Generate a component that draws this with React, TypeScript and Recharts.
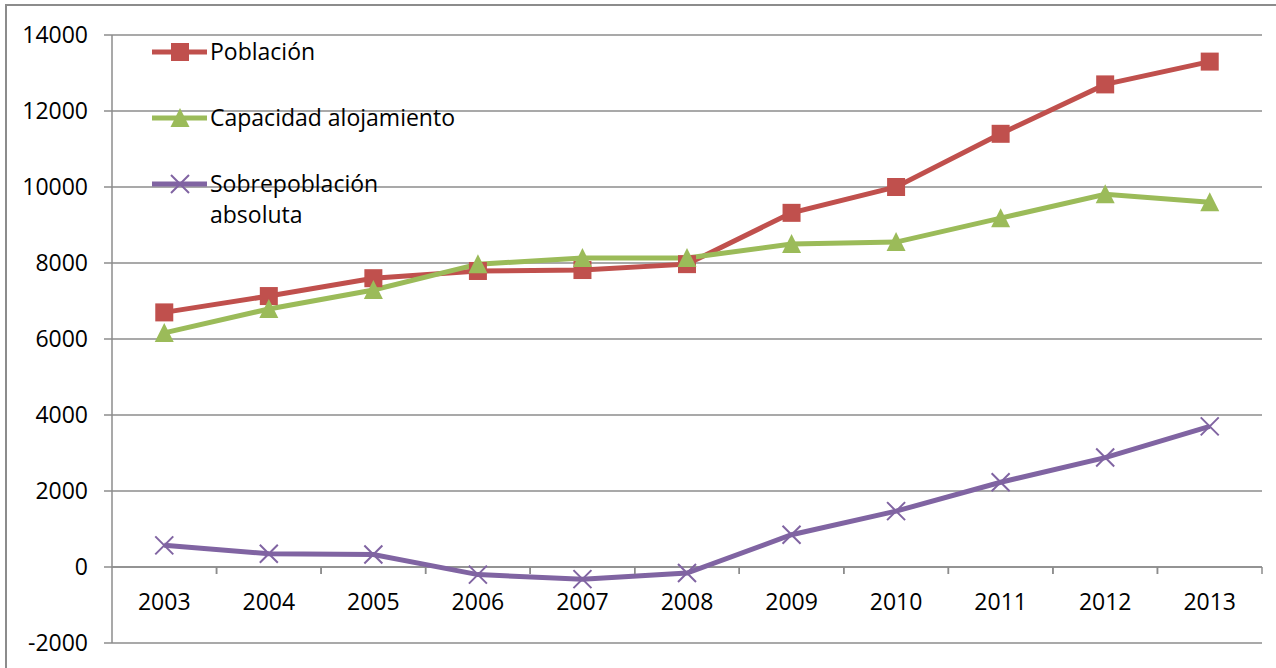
import { LineChart, Line, XAxis, YAxis, CartesianGrid, Legend, ReferenceLine } from 'recharts';

const years = ['2003', '2004', '2005', '2006', '2007', '2008', '2009', '2010', '2011', '2012', '2013'];
const poblacion = [6700, 7130, 7600, 7790, 7815, 7970, 9320, 10000, 11400, 12700, 13300];
const capacidad = [6160, 6790, 7290, 7970, 8130, 8130, 8500, 8550, 9180, 9810, 9600];
const sobrepoblacion = [570, 350, 330, -200, -320, -160, 850, 1470, 2230, 2880, 3700];
const yTicks = [-2000, 0, 2000, 4000, 6000, 8000, 10000, 12000, 14000];

const data = years.map((year, i) => ({
  year,
  poblacion: poblacion[i],
  capacidad: capacidad[i],
  sobrepoblacion: sobrepoblacion[i],
}));

const W = 1276;
const H = 668;
const X_H = 25;
const M = { top: 35, right: 14, bottom: 0, left: 0 };
const Y_W = 112;
const PLOT_W = W - M.left - M.right - Y_W;
const PLOT_H = H - M.top - M.bottom - X_H;
const Y_MIN = -2000;
const Y_MAX = 14000;
const ZERO_Y = M.top + (PLOT_H * (Y_MAX - 0)) / (Y_MAX - Y_MIN);
const BAND = PLOT_W / years.length;

const RED = '#C0504D';
const GREEN = '#9BBB59';
const PURPLE = '#8064A2';
const GRID = '#8c8c8c';
const FONT = '"Open Sans", sans-serif';
const FS = 23;

function SquareDot({ cx, cy }: any) {
  return <rect x={cx - 9} y={cy - 9} width={18} height={18} fill={RED} />;
}

function TriangleDot({ cx, cy }: any) {
  return <path d={`M${cx},${cy - 10} L${cx + 9.5},${cy + 9} L${cx - 9.5},${cy + 9} Z`} fill={GREEN} />;
}

function CrossDot({ cx, cy }: any) {
  return (
    <path
      d={`M${cx - 9},${cy - 9} L${cx + 9},${cy + 9} M${cx + 9},${cy - 9} L${cx - 9},${cy + 9}`}
      stroke={PURPLE}
      strokeWidth={2}
    />
  );
}

function YearTick({ x, payload, index }: any) {
  const left = x - BAND / 2;
  const right = x + BAND / 2;
  return (
    <g>
      {index > 0 && <line x1={left} x2={left} y1={ZERO_Y} y2={ZERO_Y + 7} stroke={GRID} strokeWidth={1.5} />}
      <line x1={right} x2={right} y1={ZERO_Y} y2={ZERO_Y + 7} stroke={GRID} strokeWidth={1.5} />
      <text x={x} y={ZERO_Y + 43} textAnchor="middle" fill="#000" fontSize={FS} fontFamily={FONT}>
        {payload.value}
      </text>
    </g>
  );
}

const legendItems = [
  { label: ['Población'], color: RED, marker: 'square' },
  { label: ['Capacidad alojamiento'], color: GREEN, marker: 'triangle' },
  { label: ['Sobrepoblación', 'absoluta'], color: PURPLE, marker: 'cross' },
];

function LegendContent() {
  return (
    <div style={{ fontFamily: FONT, fontSize: FS, color: '#000' }}>
      {legendItems.map((item, i) => (
        <div key={i} style={{ display: 'flex', alignItems: 'flex-start', height: i === 2 ? 70 : 66 }}>
          <svg width={60} height={30} style={{ flex: 'none' }}>
            <line x1={2} x2={57} y1={15} y2={15} stroke={item.color} strokeWidth={5} />
            {item.marker === 'square' && <rect x={21} y={6} width={18} height={18} fill={item.color} />}
            {item.marker === 'triangle' && <path d="M30,5 L39.5,24 L20.5,24 Z" fill={item.color} />}
            {item.marker === 'cross' && (
              <path d="M21,6 L39,24 M39,6 L21,24" stroke={item.color} strokeWidth={2} />
            )}
          </svg>
          <div style={{ lineHeight: '31px', marginTop: -1 }}>
            {item.label.map((l) => (
              <div key={l}>{l}</div>
            ))}
          </div>
        </div>
      ))}
    </div>
  );
}

export default function App() {
  return (
    <div style={{ position: 'absolute', left: 0, top: 0, width: W, height: H, overflow: 'hidden', background: '#fff' }}>
      <div
        style={{
          position: 'absolute',
          left: 5,
          top: 4,
          width: W + 20,
          height: H + 20,
          borderLeft: `2px solid ${GRID}`,
          borderTop: `2px solid ${GRID}`,
        }}
      />
      <LineChart width={W} height={H} data={data} margin={M} style={{ position: 'absolute', left: 0, top: 0 }}>
        <CartesianGrid vertical={false} stroke={GRID} strokeWidth={1.5} />
        <XAxis
          dataKey="year"
          scale="band"
          height={X_H}
          axisLine={false}
          tickLine={false}
          interval={0}
          tick={<YearTick />}
        />
        <YAxis
          width={Y_W}
          domain={[Y_MIN, Y_MAX]}
          ticks={yTicks}
          interval={0}
          axisLine={{ stroke: GRID, strokeWidth: 1.5 }}
          tickLine={{ stroke: GRID, strokeWidth: 1.5 }}
          tickSize={8}
          tickMargin={16}
          tick={{ fill: '#000', fontSize: FS, fontFamily: FONT }}
        />
        <ReferenceLine y={0} stroke={GRID} strokeWidth={1.5} />
        <Legend
          layout="vertical"
          align="center"
          verticalAlign="middle"
          content={<LegendContent />}
          wrapperStyle={{ position: 'absolute', left: 150, top: 37, width: 'auto' }}
        />
        <Line
          dataKey="poblacion"
          stroke={RED}
          strokeWidth={5}
          dot={<SquareDot />}
          activeDot={false}
          isAnimationActive={false}
        />
        <Line
          dataKey="capacidad"
          stroke={GREEN}
          strokeWidth={5}
          dot={<TriangleDot />}
          activeDot={false}
          isAnimationActive={false}
        />
        <Line
          dataKey="sobrepoblacion"
          stroke={PURPLE}
          strokeWidth={5}
          dot={<CrossDot />}
          activeDot={false}
          isAnimationActive={false}
        />
      </LineChart>
    </div>
  );
}
